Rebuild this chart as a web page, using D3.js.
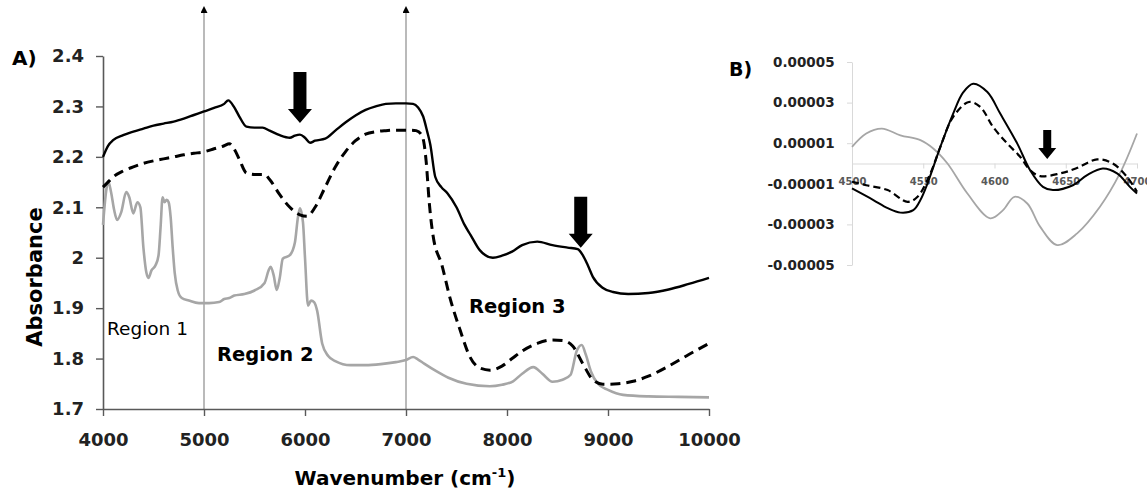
<!DOCTYPE html>
<html>
<head>
<meta charset="utf-8">
<script src="https://cdn.jsdelivr.net/npm/d3@7"></script>
<style>
  body { margin: 0; background: #fff; }
  svg { display: block; font-family: "DejaVu Sans", sans-serif; }
</style>
</head>
<body>
<svg id="chart" width="1147" height="491"></svg>
<script>
// ---- panel A: NIR spectra (wavenumber, absorbance) ----
const solidA = [[4000,2.200],[4050,2.222],[4100,2.233],[4200,2.243],[4300,2.250],[4400,2.256],[4500,2.262],[4600,2.266],[4700,2.270],[4800,2.276],[4900,2.283],[5000,2.290],[5100,2.297],[5200,2.305],[5240,2.312],[5300,2.298],[5350,2.280],[5420,2.260],[5500,2.258],[5580,2.258],[5650,2.252],[5750,2.243],[5850,2.238],[5900,2.242],[5950,2.244],[6000,2.238],[6050,2.228],[6100,2.232],[6200,2.236],[6300,2.252],[6400,2.268],[6500,2.282],[6600,2.293],[6700,2.300],[6800,2.305],[6900,2.306],[7000,2.306],[7070,2.305],[7120,2.298],[7170,2.280],[7210,2.250],[7240,2.225],[7290,2.160],[7350,2.140],[7410,2.128],[7500,2.100],[7580,2.065],[7640,2.045],[7730,2.015],[7860,2.000],[7950,2.004],[8050,2.012],[8150,2.025],[8300,2.032],[8450,2.025],[8600,2.020],[8700,2.017],[8750,2.005],[8800,1.985],[8850,1.962],[8950,1.940],[9050,1.932],[9200,1.928],[9400,1.930],[9600,1.937],[9800,1.948],[10000,1.960]];
const dashedA = [[4000,2.140],[4050,2.150],[4100,2.160],[4200,2.172],[4300,2.180],[4400,2.187],[4500,2.192],[4600,2.196],[4700,2.200],[4800,2.204],[4900,2.207],[5000,2.210],[5100,2.216],[5200,2.222],[5250,2.226],[5300,2.215],[5350,2.195],[5420,2.168],[5500,2.165],[5600,2.165],[5650,2.155],[5750,2.125],[5850,2.100],[5950,2.085],[6020,2.082],[6100,2.100],[6200,2.140],[6300,2.180],[6400,2.210],[6500,2.232],[6600,2.245],[6700,2.250],[6800,2.252],[6900,2.253],[7050,2.253],[7100,2.252],[7150,2.245],[7180,2.225],[7200,2.190],[7230,2.110],[7267,2.045],[7356,1.985],[7436,1.920],[7535,1.857],[7634,1.803],[7733,1.781],[7832,1.777],[7950,1.785],[8050,1.800],[8150,1.815],[8300,1.830],[8450,1.837],[8550,1.836],[8650,1.825],[8750,1.790],[8850,1.758],[8950,1.749],[9100,1.750],[9250,1.755],[9400,1.765],[9600,1.785],[9800,1.808],[10000,1.830]];
const greyA = [[4000,2.065],[4030,2.130],[4050,2.152],[4080,2.130],[4110,2.095],[4140,2.075],[4180,2.090],[4230,2.130],[4260,2.120],[4300,2.088],[4340,2.110],[4370,2.100],[4400,2.020],[4430,1.970],[4450,1.960],[4480,1.975],[4520,1.985],[4550,2.005],[4570,2.060],[4590,2.120],[4610,2.110],[4630,2.115],[4650,2.110],[4670,2.080],[4690,2.020],[4710,1.970],[4740,1.935],[4780,1.920],[4850,1.915],[4950,1.910],[5050,1.910],[5150,1.912],[5200,1.918],[5250,1.920],[5300,1.925],[5400,1.928],[5500,1.935],[5600,1.950],[5640,1.975],[5660,1.982],[5690,1.965],[5720,1.936],[5750,1.960],[5780,1.998],[5850,2.005],[5900,2.030],[5930,2.080],[5950,2.098],[5980,2.070],[6000,2.000],[6030,1.905],[6060,1.915],[6090,1.912],[6120,1.895],[6170,1.830],[6230,1.805],[6300,1.795],[6450,1.787],[6600,1.787],[6750,1.789],[6900,1.793],[7000,1.797],[7070,1.803],[7120,1.798],[7180,1.790],[7300,1.775],[7420,1.762],[7600,1.750],[7830,1.745],[7950,1.748],[8060,1.755],[8150,1.770],[8260,1.783],[8350,1.770],[8450,1.754],[8550,1.758],[8630,1.768],[8690,1.815],[8740,1.827],[8780,1.808],[8830,1.775],[8900,1.750],[9000,1.738],[9150,1.728],[9400,1.725],[9700,1.724],[10000,1.723]];
const xTicksA = [4000,5000,6000,7000,8000,9000,10000];
const yTicksA = [1.7,1.8,1.9,2.0,2.1,2.2,2.3,2.4];
const regionLines = [5000,7000];
const arrowsA = [[5950,2.267],[8730,2.020]];   // arrow tips

// ---- panel B: second derivative, 4500-4700 ----
const solidB = [[4500,-1.23e-5],[4515,-1.8e-5],[4525,-2.2e-5],[4534,-2.42e-5],[4543,-2.3e-5],[4548,-1.8e-5],[4553,-0.98e-5],[4562,0.82e-5],[4571,2.46e-5],[4578,3.5e-5],[4585,3.93e-5],[4595,3.52e-5],[4604,2.46e-5],[4616,0.98e-5],[4625,-0.33e-5],[4634,-1.15e-5],[4641,-1.31e-5],[4655,-1.07e-5],[4665,-0.57e-5],[4676,-0.25e-5],[4686,-0.49e-5],[4695,-1.15e-5],[4700,-1.48e-5]];
const dashedB = [[4500,-0.9e-5],[4510,-1.07e-5],[4525,-1.31e-5],[4539,-1.89e-5],[4546,-1.64e-5],[4555,-0.49e-5],[4562,0.82e-5],[4571,2.3e-5],[4582,3.03e-5],[4590,2.79e-5],[4599,1.8e-5],[4609,0.98e-5],[4618,0.33e-5],[4625,-0.33e-5],[4632,-0.62e-5],[4646,-0.49e-5],[4657,-0.25e-5],[4672,0.2e-5],[4683,0],[4693,-0.66e-5],[4700,-1.39e-5]];
const greyB = [[4500,0.82e-5],[4510,1.48e-5],[4521,1.72e-5],[4534,1.39e-5],[4548,1.15e-5],[4557,0.74e-5],[4567,0],[4581,-1.48e-5],[4597,-2.7e-5],[4606,-2.3e-5],[4614,-1.64e-5],[4623,-1.97e-5],[4632,-3.11e-5],[4644,-4.02e-5],[4658,-3.44e-5],[4674,-2.13e-5],[4688,-0.49e-5],[4700,1.48e-5]];
const xTicksB = [4500,4550,4600,4650,4700];
const yTicksB = [-0.00005,-0.00003,-0.00001,0.00001,0.00003,0.00005];
const yTickLabelsB = ["-0.00005","-0.00003","-0.00001","0.00001","0.00003","0.00005"];
const arrowB = [4637,0.22e-5];   // arrow tip

const svg = d3.select("#chart");

// down arrow drawn as a polygon, tip at (cx, tipY)
function downArrow(g, cx, tipY, len, shaftW, headW, headH) {
    const top = tipY - len, hb = tipY - headH;
    g.append("path")
        .attr("d", `M${cx-shaftW/2},${top} L${cx+shaftW/2},${top} L${cx+shaftW/2},${hb} L${cx+headW/2},${hb} L${cx},${tipY} L${cx-headW/2},${hb} L${cx-shaftW/2},${hb} Z`)
        .attr("fill", "#000");
}

// ===== panel A =====
const xA = d3.scaleLinear().domain([4000, 10000]).range([103, 709]);
const yA = d3.scaleLinear().domain([1.7, 2.4]).range([409, 56]);
const gA = svg.append("g");

svg.append("defs").append("marker")
    .attr("id", "tri")
    .attr("viewBox", "0 0 10 10")
    .attr("refX", 5).attr("refY", 10)
    .attr("markerWidth", 7).attr("markerHeight", 9)
    .attr("markerUnits", "userSpaceOnUse")
    .attr("orient", "0")
    .append("path").attr("d", "M0,10 L5,0 L10,10 Z").attr("fill", "#000");

gA.selectAll("line.region")
    .data(regionLines)
    .join("line")
    .attr("class", "region")
    .attr("x1", d => xA(d)).attr("x2", d => xA(d))
    .attr("y1", yA(1.7)).attr("y2", 13)
    .attr("stroke", "#8c8c8c")
    .attr("stroke-width", 1.2)
    .attr("marker-end", "url(#tri)");

const axA = gA.append("g").attr("transform", `translate(0,${yA(1.7)})`)
    .call(d3.axisBottom(xA).tickValues(xTicksA).tickSize(7).tickSizeOuter(0).tickFormat(d3.format("d")));
const ayA = gA.append("g").attr("transform", `translate(${xA(4000)},0)`)
    .call(d3.axisLeft(yA).tickValues(yTicksA).tickSize(7).tickSizeOuter(0).tickFormat(d => d === 2 ? "2" : d3.format(".1f")(d)));
[axA, ayA].forEach(a => {
    a.select(".domain").attr("stroke", "#595959").attr("stroke-width", 1.6);
    a.selectAll(".tick line").attr("stroke", "#595959").attr("stroke-width", 1.4);
    a.selectAll("text").attr("fill", "#222").attr("font-size", 18).attr("font-weight", "bold")
        .attr("font-family", "DejaVu Sans");
});
axA.selectAll("text").attr("dy", "1.5em");
ayA.selectAll("text").attr("dx", "-0.5em");

const lineA = d3.line().x(d => xA(d[0])).y(d => yA(d[1])).curve(d3.curveMonotoneX);
gA.append("path").datum(greyA).attr("d", lineA)
    .attr("fill", "none").attr("stroke", "#a6a6a6").attr("stroke-width", 2.6);
gA.append("path").datum(dashedA).attr("d", lineA)
    .attr("fill", "none").attr("stroke", "#000").attr("stroke-width", 3)
    .attr("stroke-dasharray", "10,6");
gA.append("path").datum(solidA).attr("d", lineA)
    .attr("fill", "none").attr("stroke", "#000").attr("stroke-width", 2.4);

arrowsA.forEach(a => downArrow(gA, xA(a[0]), yA(a[1]), 51, 13, 24, 14));

gA.append("text").attr("x", 12).attr("y", 65).text("A)")
    .attr("font-size", 20).attr("font-weight", "bold");
gA.append("text").attr("transform", "translate(42,277) rotate(-90)")
    .attr("text-anchor", "middle").attr("font-size", 21).attr("font-weight", "bold")
    .text("Absorbance");
const xt = gA.append("text").attr("x", 405).attr("y", 485)
    .attr("text-anchor", "middle").attr("font-size", 20).attr("font-weight", "bold");
xt.append("tspan").text("Wavenumber (cm");
xt.append("tspan").text("-1").attr("font-size", 13).attr("dy", -8);
xt.append("tspan").text(")").attr("dy", 8);

gA.append("text").attr("x", 107).attr("y", 335).text("Region 1")
    .attr("font-size", 18.5);
gA.append("text").attr("x", 217).attr("y", 361).text("Region 2")
    .attr("font-size", 19.5).attr("font-weight", "bold");
gA.append("text").attr("x", 469).attr("y", 313).text("Region 3")
    .attr("font-size", 19.5).attr("font-weight", "bold");

// ===== panel B =====
const xB = d3.scaleLinear().domain([4500, 4700]).range([852, 1137]);
const yB = d3.scaleLinear().domain([-0.00005, 0.00005]).range([265, 62]);
const gB = svg.append("g");

const ayB = gB.append("g").attr("transform", `translate(${xB(4500)},0)`)
    .call(d3.axisLeft(yB).tickValues(yTicksB).tickSize(5).tickSizeOuter(0)
        .tickFormat((d, i) => yTickLabelsB[i]));
ayB.select(".domain").attr("stroke", "#d9d9d9");
ayB.selectAll(".tick line").attr("stroke", "#d9d9d9");
ayB.selectAll("text").attr("fill", "#222").attr("font-size", 13.5).attr("font-weight", "bold")
    .attr("font-family", "DejaVu Sans").attr("dx", "-0.7em");

const axB = gB.append("g").attr("transform", `translate(0,${yB(0)})`)
    .call(d3.axisBottom(xB).tickValues(xTicksB).tickSize(5).tickSizeOuter(0).tickFormat(d3.format("d")));
axB.select(".domain").attr("stroke", "#d9d9d9");
axB.selectAll(".tick line").attr("stroke", "#d9d9d9");
axB.selectAll("text").attr("fill", "#595959").attr("font-size", 10).attr("font-weight", "bold")
    .attr("font-family", "DejaVu Sans").attr("dy", "1.3em");

const lineB = d3.line().x(d => xB(d[0])).y(d => yB(d[1])).curve(d3.curveCatmullRom);
gB.append("path").datum(greyB).attr("d", lineB)
    .attr("fill", "none").attr("stroke", "#a6a6a6").attr("stroke-width", 1.8);
gB.append("path").datum(dashedB).attr("d", lineB)
    .attr("fill", "none").attr("stroke", "#000").attr("stroke-width", 2.2)
    .attr("stroke-dasharray", "7,4");
gB.append("path").datum(solidB).attr("d", lineB)
    .attr("fill", "none").attr("stroke", "#000").attr("stroke-width", 2);

downArrow(gB, xB(arrowB[0]), yB(arrowB[1]), 29, 8, 18, 11);

gB.append("text").attr("x", 729).attr("y", 76).text("B)")
    .attr("font-size", 19).attr("font-weight", "bold");
</script>
</body>
</html>
